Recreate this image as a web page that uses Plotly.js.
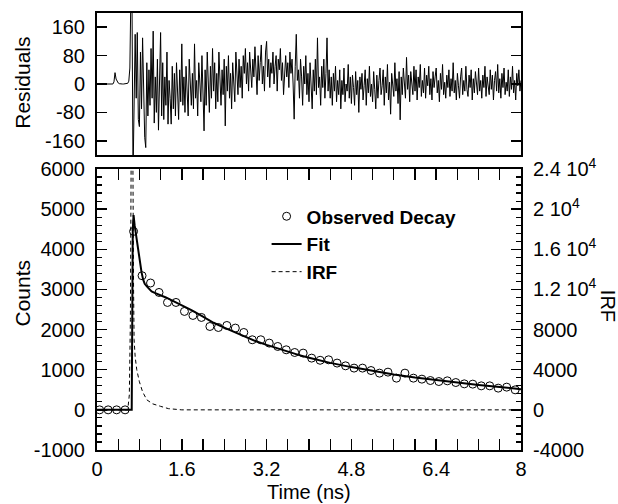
<!DOCTYPE html>
<html>
<head>
<meta charset="utf-8">
<script src="https://cdn.plot.ly/plotly-3.0.1.min.js"></script>
<style>html,body{margin:0;padding:0;background:#fff}#chart{width:618px;height:504px}</style>
</head>
<body>
<div id="chart"></div>
<script>
// Residuals: uniform channel grid starting at 0 ns, step 0.02 ns
const resStart = 0, resStep = 0.02;
const residuals = [
0,0,0,0,0,0,0,0,0,0,
0,0,0,0,0,0,6,32,14,6,
3,1,0,0,0,0,0,0,1,2,
8,45,260,250,-260,-30,140,-40,145,-100,
-120,90,-70,130,10,-150,-179,60,-90,40,
-60,100,-40,149,-110,20,-80,70,-130,30,
145,-90,60,-100,20,-60,90,-113,10,-40,
-113,50,-70,30,-90,60,-20,-100,40,-50,
113,-60,20,-80,50,-30,-90,70,-10,-60,
30,-70,113,-40,10,-90,60,-20,-50,80,
-30,-132,40,-60,90,-10,-80,50,-40,100,
-20,60,-70,30,-50,90,10,-60,40,-30,
70,-118,50,-20,80,-40,30,-70,60,10,
-50,90,20,-30,70,-10,50,-40,80,30,
100,0,60,-20,90,40,-10,70,20,105,
30,-30,80,10,60,110,0,50,-20,90,
120,20,70,-10,60,30,90,0,50,80,
-20,70,40,100,10,60,-30,50,80,20,
60,-10,90,30,70,0,-99,50,140,10,
40,-40,70,20,-60,50,0,80,-30,30,
-50,60,10,-70,40,-20,70,-30,130,-10,
20,-60,50,-10,70,-40,30,130,-20,40,
-40,20,-60,30,-20,50,-50,10,-30,40,
-70,10,-30,45,-50,0,-20,55,-40,20,
-55,25,-10,-60,35,-30,10,-80,20,-15,
30,-45,-5,40,-60,15,-25,50,-35,0,
-50,35,-15,-70,25,-40,10,45,-30,-5,
40,-60,20,-25,55,-45,5,-85,30,-10,
-35,60,-20,15,-55,35,-101,20,-30,45,
10,-40,75,-15,25,-50,35,-5,-30,50,
-20,40,-45,20,-10,55,-35,10,-25,45,
-40,25,-5,50,-30,15,-45,35,-10,20,
45,-25,10,-50,30,-15,55,-30,5,-40,
25,-10,40,-35,15,-20,60,-25,10,-45,
30,-5,-40,20,45,-30,10,-20,50,-15,
-35,25,-10,40,-45,15,-25,35,0,-30,
45,-20,10,-40,25,-10,50,-35,20,-5,
-30,40,-15,25,-45,10,35,-20,55,-25,
15,-40,30,-10,45,-30,5,-20,40,-35,
20,-15,50,-25,10,-45,30,-5,40,-20,
10
];

// Observed decay (circles): start 0.05 ns, step 0.16 ns
const obsStart = 0.05, obsStep = 0.16;
const observed = [0,0,0,0,4446,3342,3160,2925,2676,2676,2452,2352,2302,2077,2052,2102,2037,1928,1746,1746,
1663,1579,1496,1429,1414,1289,1235,1247,1165,1097,1040,1040,980,915,940,790,915,790,765,731,
706,723,681,648,641,598,598,541,566,499];

// Fit curve
const fitTime = [0,0.64,0.655,0.675,0.69,0.71,0.73,0.75,0.78,0.81,0.84,0.87,0.90,0.94,0.98,1.03,1.10,1.19,1.30,1.45,1.60,1.80,2.00,2.20,2.40,2.60,2.80,3.00,3.20,3.40,3.60,3.80,4.00,4.40,4.80,5.20,5.60,6.00,6.40,6.80,7.20,7.60,8.00];
const fitCounts = [0,0,0,4500,4850,4600,4420,4240,3930,3660,3430,3250,3140,3075,3010,2950,2910,2868,2800,2700,2610,2470,2320,2170,2050,1930,1810,1710,1620,1530,1450,1370,1300,1170,1065,970,880,805,740,680,620,570,515];

// Instrument response function (right axis)
const irfTime = [0,0.58,0.61,0.63,0.645,0.66,0.675,0.69,0.70,0.72,0.75,0.80,0.86,0.94,1.05,1.20,1.35,1.60,8.0];
const irfValues = [0,0,1500,9000,26000,32000,27000,12000,7000,5300,4000,2800,1800,1000,600,350,120,0,0];

const xTicks = [0,1.6,3.2,4.8,6.4,8];
const xTickText = ['0','1.6','3.2','4.8','6.4','8'];
const countTicks = [-1000,0,1000,2000,3000,4000,5000,6000];
const countTickText = ['-1000','0','1000','2000','3000','4000','5000','6000'];
const irfTicks = [-4000,0,4000,8000,12000,16000,20000,24000];
const irfTickText = ['-4000','0','4000','8000','1.2 10<sup>4</sup>','1.6 10<sup>4</sup>','2 10<sup>4</sup>','2.4 10<sup>4</sup>'];
const resTicks = [-160,-80,0,80,160];
const resTickText = ['-160','-80','0','80','160'];

const FONT = 'Liberation Sans, Arial, Helvetica, sans-serif';
const tickFont = {family: FONT, size: 20, color: '#000'};

const traces = [
  {x0: obsStart, dx: obsStep, y: observed, type: 'scatter', mode: 'markers', name: 'Observed Decay',
   xaxis: 'x', yaxis: 'y', marker: {symbol: 'circle-open', size: 8, color: '#000', line: {width: 1, color: '#000'}}},
  {x: fitTime, y: fitCounts, type: 'scatter', mode: 'lines', name: 'Fit',
   xaxis: 'x', yaxis: 'y', line: {color: '#000', width: 2}},
  {x: irfTime, y: irfValues, type: 'scatter', mode: 'lines', name: 'IRF',
   xaxis: 'x', yaxis: 'y3', line: {color: '#000', width: 1, dash: '4px,3px'}},
  {x0: resStart, dx: resStep, y: residuals, type: 'scatter', mode: 'lines', name: 'Residuals',
   xaxis: 'x2', yaxis: 'y2', showlegend: false, line: {color: '#000', width: 1}}
];

const axLine = {showline: true, linecolor: '#000', linewidth: 2, showgrid: false, zeroline: false};

const layout = {
  width: 618, height: 504,
  margin: {l: 97, r: 97, t: 13, b: 54},
  paper_bgcolor: '#fff', plot_bgcolor: '#fff',
  font: {family: FONT, color: '#000'},
  showlegend: true,
  legend: {x: 0.40, y: 0.578, xanchor: 'left', yanchor: 'top', bgcolor: 'rgba(0,0,0,0)',
           font: {family: FONT, size: 19, weight: 'bold', color: '#000'}, tracegroupgap: 0},
  xaxis: Object.assign({}, axLine, {
    domain: [0, 1], anchor: 'y', range: [0, 8], tickvals: xTicks, ticktext: xTickText,
    ticks: 'inside', ticklen: 11, tickwidth: 1.5, tickcolor: '#000', mirror: 'allticks',
    minor: {dtick: 0.4, tick0: 0, ticks: 'inside', ticklen: 6, tickwidth: 1.2, tickcolor: '#000'},
    tickfont: tickFont, ticklabelstandoff: 0
  }),
  yaxis: Object.assign({}, axLine, {
    domain: [0, 0.643], anchor: 'x', range: [-1000, 6000], tickvals: countTicks, ticktext: countTickText,
    ticks: 'inside', ticklen: 10, tickwidth: 1.5, tickcolor: '#000', mirror: true,
    minor: {dtick: 200, tick0: 0, ticks: 'inside', ticklen: 5, tickwidth: 1.2, tickcolor: '#000'},
    tickfont: tickFont, ticklabelstandoff: 6
  }),
  yaxis3: Object.assign({}, axLine, {
    overlaying: 'y', side: 'right', anchor: 'x', range: [-4000, 24000],
    tickvals: irfTicks, ticktext: irfTickText,
    ticks: 'inside', ticklen: 10, tickwidth: 1.5, tickcolor: '#000',
    minor: {dtick: 800, tick0: 0, ticks: 'inside', ticklen: 5, tickwidth: 1.2, tickcolor: '#000'},
    tickfont: tickFont, ticklabelstandoff: 6
  }),
  xaxis2: Object.assign({}, axLine, {
    domain: [0, 1], anchor: 'y2', range: [0, 8], showticklabels: false, ticks: '', mirror: true
  }),
  yaxis2: Object.assign({}, axLine, {
    domain: [0.675, 1], anchor: 'x2', range: [-200, 200], tickvals: resTicks, ticktext: resTickText,
    ticks: 'inside', ticklen: 10, tickwidth: 1.5, tickcolor: '#000', mirror: 'allticks',
    tickfont: tickFont, ticklabelstandoff: 6
  }),
  annotations: [
    {text: 'Time (ns)', xref: 'paper', yref: 'paper', x: 0.5, y: -0.097, xanchor: 'center', yanchor: 'middle',
     showarrow: false, font: {family: FONT, size: 20, color: '#000'}},
    {text: 'Counts', xref: 'paper', yref: 'paper', x: -0.175, y: 0.36, xanchor: 'center', yanchor: 'middle',
     textangle: -90, showarrow: false, font: {family: FONT, size: 21, color: '#000'}},
    {text: 'Residuals', xref: 'paper', yref: 'paper', x: -0.175, y: 0.84, xanchor: 'center', yanchor: 'middle',
     textangle: -90, showarrow: false, font: {family: FONT, size: 21, color: '#000'}},
    {text: 'IRF', xref: 'paper', yref: 'paper', x: 1.205, y: 0.33, xanchor: 'center', yanchor: 'middle',
     textangle: 90, showarrow: false, font: {family: FONT, size: 20, color: '#000'}}
  ]
};

Plotly.newPlot('chart', traces, layout, {displayModeBar: false, staticPlot: true});
</script>
</body>
</html>
